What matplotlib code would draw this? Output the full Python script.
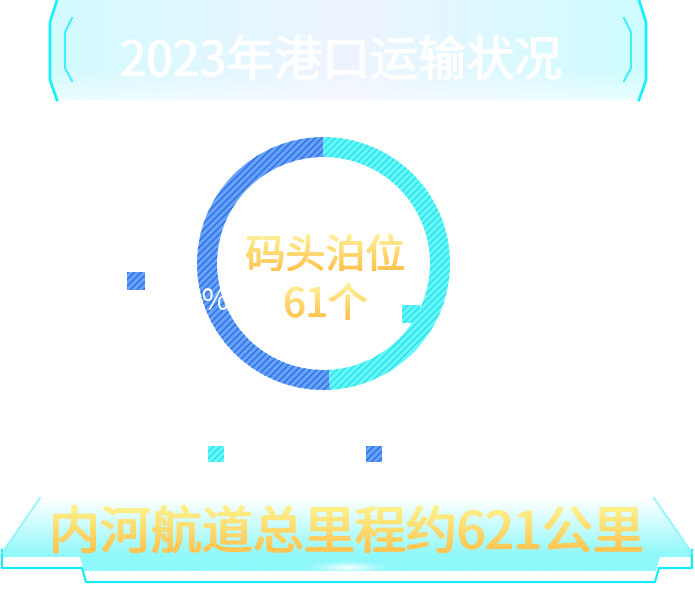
import numpy as np
import matplotlib
matplotlib.use('Agg')
import matplotlib.pyplot as plt
import matplotlib.transforms as mtransforms
from matplotlib.colors import LinearSegmentedColormap, to_rgb
from matplotlib.font_manager import FontProperties
from matplotlib.patches import PathPatch, Polygon, Rectangle
from matplotlib.textpath import TextPath

plt.rcParams['font.family'] = ['Noto Sans CJK SC', 'DejaVu Sans']
plt.rcParams['hatch.linewidth'] = 1.0

# 数据
title = '2023年港口运输状况'
center_name = '码头泊位'
center_unit = '个'
footer = '内河航道总里程约621公里'
berth_values = [31, 30]
berth_colors = ['#64a2fc', '#66f7f9']
hatch_colors = ['#2f6ddf', '#27e0ea']

total = sum(berth_values)
W, H = 695, 595

fig = plt.figure(figsize=(W / 100, H / 100), dpi=100)
fig.patch.set_facecolor('white')

# 背景层 (像素坐标)
bg = fig.add_axes([0, 0, 1, 1], zorder=0)
bg.axis('off')


def grad_fill(ax, pts, img, z=1):
    poly = Polygon(pts, closed=True, facecolor='none', edgecolor='none', transform=ax.transData)
    ax.add_patch(poly)
    xs = [p[0] for p in pts]
    ys = [p[1] for p in pts]
    ax.imshow(img, extent=[min(xs), max(xs), max(ys), min(ys)], aspect='auto',
              clip_path=poly, zorder=z, interpolation='bilinear')


def grad_text(ax, s, cx, cy, size, c_top, c_bot, thick=0.0, z=6):
    # 渐变文字; thick>0 时用小位移叠画加粗
    fp = FontProperties(family='Noto Sans CJK SC')
    tp = TextPath((0, 0), s, size=size, prop=fp)
    bb = tp.get_extents()
    cmap = LinearSegmentedColormap.from_list('g', [c_top, c_bot])
    offs = [(0, 0)]
    if thick > 0:
        offs += [(-thick, 0), (thick, 0), (0, -thick * 0.6), (0, thick * 0.6)]
    for dx, dy in offs:
        tr = (mtransforms.Affine2D()
              .translate(-(bb.x0 + bb.x1) / 2, -(bb.y0 + bb.y1) / 2)
              .scale(1, -1).translate(cx + dx, cy + dy))
        path = tr.transform_path(tp)
        patch = PathPatch(path, facecolor='none', edgecolor='none', transform=ax.transData)
        ax.add_patch(patch)
        ext = path.get_extents()
        ax.imshow(np.linspace(0, 1, 128).reshape(-1, 1), cmap=cmap,
                  extent=[ext.x0, ext.x1, ext.y1, ext.y0], aspect='auto',
                  clip_path=patch, zorder=z)


# 顶部标题框
top_pts = [(57, 0), (50, 22), (50, 80), (57, 100), (639, 100), (646, 80), (646, 22), (639, 0)]
gx = np.linspace(0, 1, 300)
left_c, mid_c, right_c = to_rgb('#d2fbff'), to_rgb('#eef4ff'), to_rgb('#cdfdff')
row = np.stack([np.interp(gx, [0, 0.5, 1], [left_c[i], mid_c[i], right_c[i]]) for i in range(3)], axis=-1)
gy = np.linspace(0, 1, 100)[:, None, None]
fade = np.clip((gy - 0.7) / 0.3, 0, 1) * 0.55
img_top = row[None, :, :] * (1 - fade) + fade
grad_fill(bg, top_pts, img_top)

bg.plot([57, 50, 50, 57], [0, 22, 80, 100], color='#19effd', lw=2, zorder=3)
bg.plot([639, 646, 646, 639], [0, 22, 80, 100], color='#19effd', lw=2, zorder=3)
bg.plot([72, 65, 65, 72], [18, 32, 68, 81], color='#3ff0fd', lw=1.5, zorder=3)
bg.plot([624, 631, 631, 624], [18, 32, 68, 81], color='#3ff0fd', lw=1.5, zorder=3)

# 底部横幅
bot_pts = [(40, 498), (654, 498), (692, 553), (692, 557), (660, 557), (656, 571),
           (84, 571), (80, 557), (2, 557), (2, 553)]
vy = np.linspace(0, 1, 80)[:, None]
c_lo = np.array(to_rgb('#8ef8fb'))
c_hi = np.array([1.0, 1.0, 1.0])
t = np.clip(vy * 1.25, 0, 1)
img_bot = (c_hi * (1 - t) + c_lo * t)[:, None, :].repeat(10, axis=1)
grad_fill(bg, bot_pts, img_bot)

bg.plot([2, 2, 82, 86, 655, 659, 692, 692], [550, 568, 568, 582, 582, 568, 568, 550],
        color='#16ebf6', lw=1.6, zorder=3)
bg.plot([40, 2], [498, 553], color='#7ff3fa', lw=1.4, zorder=3, alpha=0.8)
bg.plot([654, 692], [498, 553], color='#7ff3fa', lw=1.4, zorder=3, alpha=0.8)

# 底部高光
gxx, gyy = np.meshgrid(np.linspace(-1, 1, 120), np.linspace(-1, 1, 30))
glow = np.zeros((30, 120, 4))
glow[..., :3] = 1.0
glow[..., 3] = np.clip(1 - np.sqrt(gxx ** 2 + gyy ** 2), 0, 1) ** 1.5
bg.imshow(glow, extent=[300, 396, 575, 560], aspect='auto', zorder=4)

bg.set_xlim(0, W)
bg.set_ylim(H, 0)

# 环形图
cx, cy, r_out, r_in = 323.5, 263.5, 126.5, 106.5
pie_ax = fig.add_axes([(cx - r_out) / W, (H - cy - r_out) / H, 2 * r_out / W, 2 * r_out / H], zorder=1)
wedges, _ = pie_ax.pie(berth_values, colors=berth_colors, startangle=90, counterclock=True,
                       radius=1, wedgeprops=dict(width=(r_out - r_in) / r_out, linewidth=0))
for w, hc in zip(wedges, hatch_colors):
    w.set_hatch('/////')
    w.set_edgecolor(hc)
    w.set_linewidth(0)
pie_ax.set_xlim(-1, 1)
pie_ax.set_ylim(-1, 1)
pie_ax.axis('off')

# 前景层
fg = fig.add_axes([0, 0, 1, 1], zorder=2)
fg.axis('off')

legend_pos = [(127, 272), (402, 305)]
for (lx, ly), fc, hc in zip(legend_pos, berth_colors, hatch_colors):
    fg.add_patch(Rectangle((lx, ly), 18, 18, facecolor=fc, edgecolor=hc, hatch='/////', lw=0, zorder=7))
bottom_legend = [(208, 446, 1), (366, 446, 0)]
for lx, ly, i in bottom_legend:
    fg.add_patch(Rectangle((lx, ly), 16, 16, facecolor=berth_colors[i], edgecolor=hatch_colors[i],
                           hatch='/////', lw=0, zorder=7))

pct = berth_values[0] / total * 100
fg.text(127, 302, f'{pct:.2f}%', color='white', fontsize=21.5,
        ha='left', va='center', zorder=4)

grad_text(fg, title, 341, 57.5, 48, '#ffffff', '#ffffff', thick=0.8)
grad_text(fg, center_name, 325, 252.5, 40, '#fff29a', '#ffc24c', thick=0.7)
grad_text(fg, f'{total}{center_unit}', 326, 301.5, 40, '#fff29a', '#ffc24c', thick=0.7)
grad_text(fg, footer, 347.5, 529, 51, '#fff38c', '#ffc24f', thick=1.1)

fg.set_xlim(0, W)
fg.set_ylim(H, 0)

fig.savefig('out.png', dpi=100, facecolor='white')
